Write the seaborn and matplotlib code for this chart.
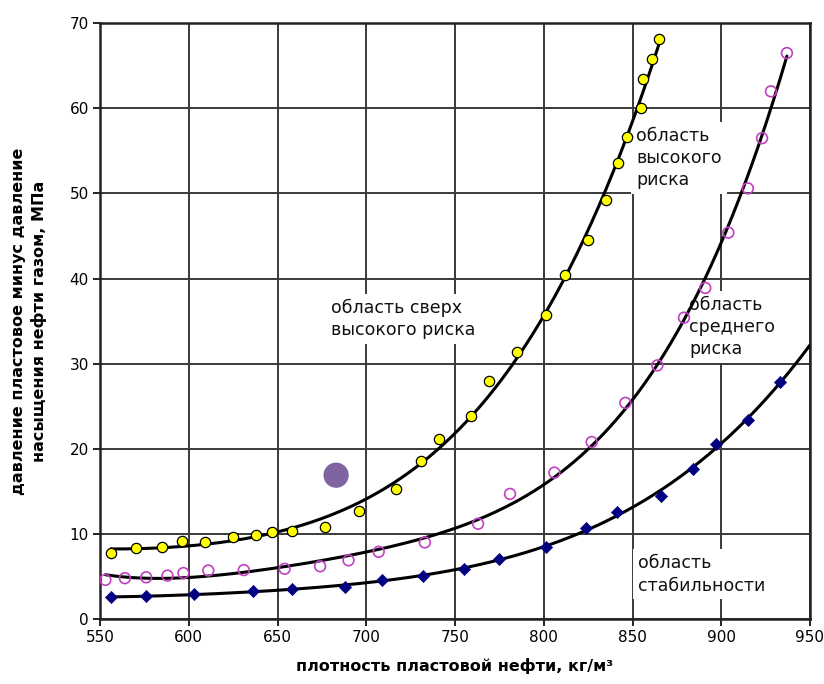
import numpy as np
import pandas as pd
import matplotlib
matplotlib.use("Agg")
import matplotlib.pyplot as plt
import seaborn as sns

# ---- data ----
yellow_x = [556, 570, 585, 596, 609, 625, 638, 647, 658, 677, 696, 717, 731, 741, 759, 769, 785, 801, 812, 825, 835, 842, 847, 855, 856, 861, 865]
yellow_y = [7.7, 8.3, 8.5, 9.2, 9.0, 9.6, 9.9, 10.2, 10.3, 10.8, 12.7, 15.3, 18.6, 21.2, 23.8, 28.0, 31.4, 35.7, 40.4, 44.5, 49.2, 53.6, 56.6, 60.0, 63.4, 65.8, 68.2]

pink_x = [553, 564, 576, 588, 597, 611, 631, 654, 674, 690, 707, 733, 763, 781, 806, 827, 846, 864, 879, 891, 904, 915, 923, 928, 937]
pink_y = [4.6, 4.8, 4.9, 5.1, 5.4, 5.7, 5.75, 5.9, 6.2, 6.9, 7.9, 9.0, 11.2, 14.7, 17.2, 20.8, 25.4, 29.8, 35.4, 38.9, 45.4, 50.6, 56.5, 62.0, 66.5]

blue_x = [556, 576, 603, 636, 658, 688, 709, 732, 755, 775, 801, 824, 841, 866, 884, 897, 915, 933]
blue_y = [2.55, 2.7, 2.9, 3.3, 3.5, 3.8, 4.6, 5.05, 5.9, 7.0, 8.5, 10.7, 12.6, 14.4, 17.6, 20.6, 23.4, 27.8]

special_x = [683]
special_y = [16.9]

x_ticks = [550, 600, 650, 700, 750, 800, 850, 900, 950]
y_ticks = [0, 10, 20, 30, 40, 50, 60, 70]

labels = {
    "sverh": "область сверх\nвысокого риска",
    "high": "область\nвысокого\nриска",
    "mid": "область\nсреднего\nриска",
    "stab": "область\nстабильности",
}

sns.set_theme(style="white")
plt.rcParams["font.family"] = ["DejaVu Sans"]
plt.rcParams["text.color"] = "black"
plt.rcParams["axes.labelcolor"] = "black"

fig = plt.figure(figsize=(8.24, 6.84), dpi=100)
ax = fig.add_axes([0.1214, 0.095, 0.8616, 0.871])

# trend lines (polynomial fits of the series)
def trend(xs, ys, x0, x1, deg=4):
    xs = np.asarray(xs, float)
    c = np.polyfit(xs - 750, ys, deg)
    gx = np.linspace(x0, x1, 300)
    return pd.DataFrame({"x": gx, "y": np.polyval(c, gx - 750)})

ty = trend(yellow_x, yellow_y, 556, 865)
tp = trend(pink_x, pink_y, 553, 937)
tb = trend(blue_x, blue_y, 556, 950)
for t in (ty, tp, tb):
    sns.lineplot(data=t, x="x", y="y", color="black", linewidth=2.2, ax=ax, zorder=3)

sns.scatterplot(x=yellow_x, y=yellow_y, marker="o", s=55, color="#ffff00",
                edgecolor="black", linewidth=0.9, ax=ax, zorder=4)
ax.scatter(pink_x, pink_y, marker="o", s=60, facecolors="none",
           edgecolors="#c040c0", linewidths=1.2, zorder=4)
sns.scatterplot(x=blue_x, y=blue_y, marker="D", s=38, color="#000080",
                edgecolor="#000080", linewidth=0.5, ax=ax, zorder=4)
sns.scatterplot(x=special_x, y=special_y, marker="o", s=330, color="#8064a2",
                edgecolor="none", ax=ax, zorder=4)

ax.set_xlim(550, 950)
ax.set_ylim(0, 70)
ax.set_xticks(x_ticks)
ax.set_yticks(y_ticks)
ax.grid(True, color="#3a3a3a", linewidth=1.4, zorder=0)
ax.set_axisbelow(True)
for s in ax.spines.values():
    s.set_color("#222222")
    s.set_linewidth(1.8)
ax.tick_params(axis="both", which="major", direction="out", length=5, width=1.4,
               color="#222222", labelsize=11, labelcolor="black", pad=3)
ax.tick_params(left=True, bottom=True)

ax.set_xlabel("плотность пластовой нефти, кг/м³", fontsize=11.5, fontweight="bold", labelpad=9)
ax.set_ylabel("давление пластовое минус давление\nнасыщения нефти газом, МПа", fontsize=11.5,
              fontweight="bold", labelpad=16, linespacing=1.4)

box = dict(facecolor="white", edgecolor="none", pad=3.5)
tk = dict(fontsize=12.5, color="#111111", va="top", ha="left", linespacing=1.3, zorder=2, bbox=box)
ax.text(680, 37.6, labels["sverh"], **tk)
ax.text(852, 57.8, labels["high"], **tk)
ax.text(882, 38.0, labels["mid"], **tk)
ax.text(853, 7.6, labels["stab"], **tk)

fig.savefig("out.png", dpi=100)
